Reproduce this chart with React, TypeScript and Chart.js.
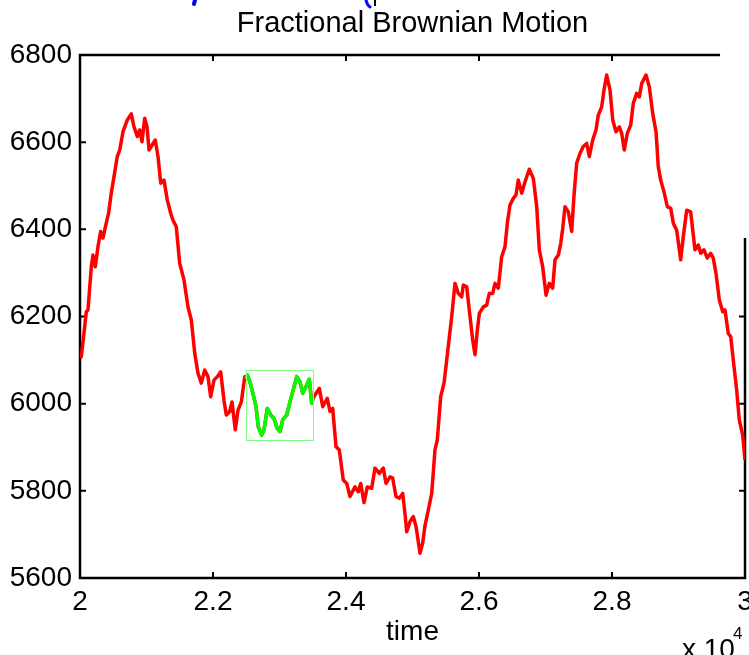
import { useEffect, useRef } from 'react';
import { Chart, registerables } from 'chart.js';

Chart.register(...registerables);

// time axis (samples)
const TIME = [
  20000, 20020, 20060, 20095, 20120, 20170, 20195, 20230, 20270, 20310, 20345, 20395, 20430, 20470,
  20520, 20560, 20597, 20647, 20711, 20771, 20812, 20862, 20898, 20932, 20973, 21008, 21038, 21072,
  21132, 21173, 21214, 21263, 21313, 21364, 21398, 21448, 21499, 21564, 21624, 21674, 21725, 21774,
  21824, 21875, 21925, 21965, 22015, 22065, 22116, 22165, 22200, 22251, 22286, 22335, 22376, 22426,
  22477, 22500, 22516, 22556, 22606, 22647, 22681, 22732, 22767, 22817, 22868, 22917, 22967, 23008,
  23048, 23108, 23158, 23198, 23259, 23308, 23349, 23398, 23448, 23484, 23500, 23534, 23599, 23650,
  23719, 23759, 23800, 23850, 23899, 23959, 24011, 24060, 24135, 24185, 24221, 24271, 24320, 24386,
  24436, 24501, 24561, 24602, 24662, 24702, 24752, 24802, 24853, 24887, 24913, 24962, 25012, 25053,
  25113, 25153, 25188, 25238, 25289, 25338, 25373, 25424, 25474, 25538, 25590, 25639, 25689, 25740,
  25764, 25815, 25865, 25905, 25940, 25975, 26005, 26065, 26116, 26155, 26206, 26241, 26290, 26341,
  26391, 26426, 26466, 26516, 26556, 26591, 26642, 26692, 26756, 26817, 26868, 26907, 26958, 27008,
  27057, 27108, 27143, 27193, 27229, 27259, 27293, 27343, 27394, 27429, 27469, 27519, 27568, 27620,
  27659, 27710, 27759, 27794, 27845, 27880, 27920, 27970, 28011, 28060, 28110, 28146, 28185, 28230,
  28281, 28320, 28371, 28411, 28447, 28511, 28561, 28612, 28662, 28696, 28732, 28782, 28832, 28883,
  28922, 28973, 29033, 29072, 29123, 29183, 29248, 29298, 29334, 29383, 29433, 29484, 29523, 29564,
  29614, 29665, 29699, 29749, 29785, 29835, 29875, 29914, 29965, 30000,
];

// fractional Brownian motion values
const FBM = [
  6105, 6108, 6162, 6211, 6215, 6314, 6341, 6314, 6360, 6395, 6380, 6414, 6437, 6483,
  6529, 6567, 6582, 6624, 6651, 6665, 6635, 6613, 6628, 6601, 6655, 6635, 6582, 6590,
  6605, 6567, 6506, 6513, 6467, 6437, 6421, 6406, 6322, 6284, 6222, 6192, 6116, 6070,
  6047, 6077, 6062, 6016, 6054, 6062, 6073, 6008, 5974, 5982, 6004, 5940, 5985, 6004,
  6062, 6060, 6066, 6050, 6020, 5993, 5947, 5928, 5940, 5989, 5974, 5966, 5943, 5936,
  5963, 5974, 6004, 6027, 6062, 6050, 6024, 6039, 6056, 6001, 6010, 6020, 6035, 5993,
  6012, 5982, 5989, 5901, 5894, 5825, 5817, 5787, 5809, 5798, 5817, 5773, 5809, 5806,
  5852, 5840, 5852, 5817, 5832, 5829, 5787, 5783, 5794, 5748, 5706, 5729, 5741, 5718,
  5657, 5680, 5720, 5756, 5794, 5894, 5917, 6016, 6047, 6131, 6200, 6276, 6253, 6245,
  6272, 6268, 6200, 6146, 6112, 6169, 6207, 6222, 6226, 6253, 6253, 6276, 6265, 6337,
  6360, 6414, 6456, 6471, 6479, 6513, 6483, 6509, 6538, 6517, 6452, 6353, 6314, 6249,
  6276, 6265, 6330, 6341, 6368, 6402, 6452, 6440, 6395, 6479, 6552, 6574, 6590, 6597,
  6567, 6605, 6628, 6662, 6681, 6720, 6754, 6720, 6651, 6624, 6635, 6620, 6582, 6620,
  6639, 6689, 6712, 6704, 6735, 6754, 6727, 6666, 6624, 6544, 6513, 6486, 6452, 6448,
  6414, 6398, 6330, 6383, 6444, 6440, 6353, 6364, 6345, 6353, 6334, 6345, 6334, 6299,
  6238, 6211, 6215, 6161, 6154, 6085, 6031, 5963, 5928, 5871,
];

// highlighted window (green)
const ZOOM_WINDOW_X = [22500, 23500];
const ZOOM_WINDOW_Y = [5918, 6078];

const X_RANGE = [20000, 30000];
const Y_RANGE = [5600, 6800];
const X_TICKS = [20000, 22000, 24000, 26000, 28000, 30000];
const X_TICK_LABELS = ['2', '2.2', '2.4', '2.6', '2.8', '3'];
const Y_TICKS = [5600, 5800, 6000, 6200, 6400, 6600, 6800];

// visible extent of the (partly covered) top and right frame edges
const TOP_EDGE_END = 29625;
const RIGHT_EDGE_TOP = 6380;

const FONT = 'Liberation Sans, Arial, Helvetica, sans-serif';

const framePlugin = {
  id: 'frame',
  beforeDatasetsDraw(chart: any) {
    const { ctx } = chart;
    const xs = chart.scales.x;
    const ys = chart.scales.y;
    const L = xs.getPixelForValue(X_RANGE[0]);
    const R = xs.getPixelForValue(X_RANGE[1]);
    const T = ys.getPixelForValue(Y_RANGE[1]);
    const B = ys.getPixelForValue(Y_RANGE[0]);
    const topEnd = xs.getPixelForValue(TOP_EDGE_END);
    const rightTop = ys.getPixelForValue(RIGHT_EDGE_TOP);
    const tk = 6;
    ctx.save();
    ctx.strokeStyle = '#000';
    ctx.lineWidth = 2.5;
    ctx.lineCap = 'butt';
    ctx.beginPath();
    ctx.moveTo(topEnd, T);
    ctx.lineTo(L, T);
    ctx.lineTo(L, B);
    ctx.lineTo(R, B);
    ctx.lineTo(R, rightTop);
    ctx.stroke();
    ctx.lineWidth = 2;
    ctx.beginPath();
    X_TICKS.forEach((v) => {
      const px = xs.getPixelForValue(v);
      if (v > X_RANGE[0] && v < X_RANGE[1]) {
        ctx.moveTo(px, B);
        ctx.lineTo(px, B - tk);
        if (v <= TOP_EDGE_END) {
          ctx.moveTo(px, T);
          ctx.lineTo(px, T + tk);
        }
      }
    });
    Y_TICKS.forEach((v) => {
      const py = ys.getPixelForValue(v);
      if (v > Y_RANGE[0] && v < Y_RANGE[1]) {
        ctx.moveTo(L, py);
        ctx.lineTo(L + tk, py);
        if (v <= RIGHT_EDGE_TOP) {
          ctx.moveTo(R, py);
          ctx.lineTo(R - tk, py);
        }
      }
    });
    ctx.stroke();
    ctx.restore();
  },
  afterDatasetsDraw(chart: any) {
    const { ctx } = chart;
    const xs = chart.scales.x;
    const ys = chart.scales.y;
    const x0 = xs.getPixelForValue(ZOOM_WINDOW_X[0]);
    const x1 = xs.getPixelForValue(ZOOM_WINDOW_X[1]);
    const y0 = ys.getPixelForValue(ZOOM_WINDOW_Y[1]);
    const y1 = ys.getPixelForValue(ZOOM_WINDOW_Y[0]);
    ctx.save();
    ctx.strokeStyle = '#80ff80';
    ctx.lineWidth = 1;
    ctx.strokeRect(Math.round(x0) + 0.5, Math.round(y0) + 0.5, Math.round(x1 - x0), Math.round(y1 - y0));
    ctx.restore();
  },
  afterDraw(chart: any) {
    const { ctx } = chart;
    const R = chart.chartArea.right;
    ctx.save();
    // exponent label
    ctx.fillStyle = '#000';
    ctx.textBaseline = 'alphabetic';
    ctx.textAlign = 'left';
    ctx.font = `28px ${FONT}`;
    ctx.fillText('x 10', R - 63, 658);
    ctx.font = `17px ${FONT}`;
    ctx.fillText('4', R - 12, 639);
    // fragments of overlapping content at the top edge
    ctx.strokeStyle = '#0000ff';
    ctx.lineWidth = 4;
    ctx.lineCap = 'round';
    ctx.beginPath();
    ctx.moveTo(195, 0);
    ctx.lineTo(194, 4);
    ctx.stroke();
    ctx.lineWidth = 3;
    ctx.beginPath();
    ctx.moveTo(366, 0);
    ctx.quadraticCurveTo(367, 5, 370, 7);
    ctx.stroke();
    ctx.strokeStyle = '#000';
    ctx.lineWidth = 2;
    ctx.lineCap = 'butt';
    ctx.beginPath();
    ctx.moveTo(375, 0);
    ctx.lineTo(375, 6);
    ctx.stroke();
    ctx.restore();
  },
};

export default function App() {
  const ref = useRef<HTMLCanvasElement>(null);

  useEffect(() => {
    const all = TIME.map((t, i) => ({ x: t, y: FBM[i] }));
    const window = all.filter((p) => p.x >= ZOOM_WINDOW_X[0] && p.x <= ZOOM_WINDOW_X[1]);
    const chart = new Chart(ref.current as HTMLCanvasElement, {
      type: 'line',
      data: {
        datasets: [
          {
            label: 'window',
            data: window,
            borderColor: '#00ff00',
            borderWidth: 3.5,
            pointRadius: 0,
            tension: 0,
            borderJoinStyle: 'round',
            borderCapStyle: 'round',
            fill: false,
          },
          {
            label: 'fBm',
            data: all,
            borderColor: '#ff0000',
            borderWidth: 3.5,
            pointRadius: 0,
            tension: 0,
            borderJoinStyle: 'round',
            fill: false,
          },
        ],
      },
      options: {
        animation: false,
        responsive: false,
        events: [],
        layout: { padding: { top: 0, left: 0, right: 4, bottom: 0 } },
        plugins: {
          legend: { display: false },
          tooltip: { enabled: false },
          title: {
            display: true,
            fullSize: false,
            text: 'Fractional Brownian Motion',
            color: '#000',
            font: { family: FONT, size: 29, weight: 'normal' },
            padding: { top: 7, bottom: 13.2 },
          },
        },
        scales: {
          x: {
            type: 'linear',
            min: X_RANGE[0],
            max: X_RANGE[1],
            grid: { display: false, drawTicks: false },
            border: { display: false },
            afterFit: (s: any) => {
              s.height = 77;
              s.paddingLeft = 0;
              s.paddingRight = 0;
            },
            afterBuildTicks: (s: any) => {
              s.ticks = X_TICKS.map((v) => ({ value: v }));
            },
            ticks: {
              color: '#000',
              font: { family: FONT, size: 28 },
              padding: 7,
              maxRotation: 0,
              autoSkip: false,
              callback: (v: any) => {
                const i = X_TICKS.indexOf(Number(v));
                return i >= 0 ? X_TICK_LABELS[i] : '';
              },
            },
            title: {
              display: true,
              text: 'time',
              color: '#000',
              font: { family: FONT, size: 28 },
              padding: { top: 0, bottom: 6 },
            },
          },
          y: {
            type: 'linear',
            min: Y_RANGE[0],
            max: Y_RANGE[1],
            grid: { display: false, drawTicks: false },
            border: { display: false },
            afterFit: (s: any) => {
              s.width = 80;
              s.paddingTop = 0;
              s.paddingBottom = 0;
            },
            afterBuildTicks: (s: any) => {
              s.ticks = Y_TICKS.map((v) => ({ value: v }));
            },
            ticks: {
              color: '#000',
              font: { family: FONT, size: 28 },
              padding: 8,
              autoSkip: false,
              callback: (v: any) => String(v),
            },
          },
        },
      },
      plugins: [framePlugin],
    });
    return () => chart.destroy();
  }, []);

  return (
    <div style={{ position: 'fixed', left: 0, top: 0, width: 749, height: 655, background: '#fff' }}>
      <canvas ref={ref} width={749} height={655} style={{ display: 'block' }} />
    </div>
  );
}
